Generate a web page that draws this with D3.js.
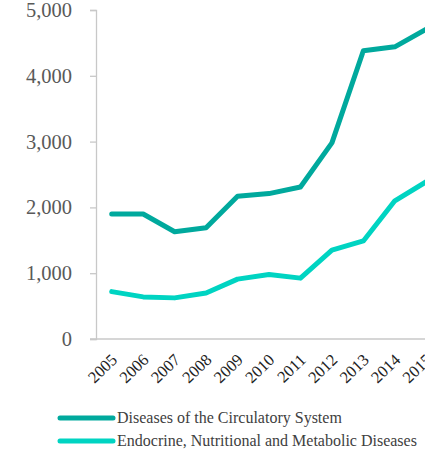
<!DOCTYPE html>
<html>
<head>
<meta charset="utf-8">
<script src="https://cdn.jsdelivr.net/npm/d3@7"></script>
<style>
  html, body { margin: 0; padding: 0; background: #fff; overflow: hidden; }
  svg { display: block; font-family: "Liberation Serif", "Times New Roman", serif; }
</style>
</head>
<body>
<svg id="chart" width="425" height="449"></svg>
<script>
const years = ["2005","2006","2007","2008","2009","2010","2011","2012","2013","2014","2015"];
const circulatory = [1900, 1900, 1630, 1690, 2170, 2210, 2310, 2980, 4380, 4440, 4710];
const endocrine = [720, 640, 625, 700, 910, 980, 925, 1350, 1490, 2100, 2390];
const seriesNames = ["Diseases of the Circulatory System", "Endocrine, Nutritional and Metabolic Diseases"];
const seriesColors = ["#00A99D", "#00D4C2"];
const yTicks = [0, 1000, 2000, 3000, 4000, 5000];

const serif = '"Liberation Serif", "Times New Roman", serif';
const svg = d3.select("#chart");
const plot = { left: 96, top: 10, bottom: 339, right: 442 };

const x = d3.scalePoint().domain(years).range([plot.left, plot.right]).padding(0.5);
const y = d3.scaleLinear().domain([0, 5000]).range([plot.bottom, plot.top]);

// y axis
const yAxis = svg.append("g")
  .attr("transform", `translate(${plot.left},0)`)
  .call(d3.axisLeft(y).tickValues(yTicks).tickSize(6).tickPadding(18).tickFormat(d3.format(",")));
yAxis.attr("font-family", serif);
yAxis.select(".domain").attr("stroke", "#c8c8c8").attr("stroke-width", 1.3);
yAxis.selectAll(".tick line").attr("stroke", "#c8c8c8").attr("stroke-width", 1.3);
yAxis.selectAll(".tick text")
  .attr("fill", "#595959")
  .style("font-size", "20.5px")
  .style("font-family", serif);

// x axis
const xAxis = svg.append("g")
  .attr("transform", `translate(0,${plot.bottom})`)
  .call(d3.axisBottom(x).tickSize(0).tickPadding(0));
xAxis.attr("font-family", serif);
xAxis.select(".domain").attr("d", `M${plot.left - 6},0H${plot.right}`).attr("stroke", "#c8c8c8").attr("stroke-width", 1.3);
xAxis.selectAll(".tick text")
  .attr("fill", "#222")
  .style("font-size", "16.5px")
  .style("font-family", serif)
  .attr("text-anchor", "end")
  .attr("dy", 0)
  .attr("transform", "translate(6,22) rotate(-44)");

// lines
const line = d3.line().x((d, i) => x(years[i])).y(d => y(d));
[circulatory, endocrine].forEach((vals, k) => {
  svg.append("path")
    .datum(vals)
    .attr("fill", "none")
    .attr("stroke", seriesColors[k])
    .attr("stroke-width", 5)
    .attr("stroke-linejoin", "round")
    .attr("stroke-linecap", "round")
    .attr("d", line);
});

// legend
const legend = svg.append("g").attr("font-family", serif);
seriesNames.forEach((name, k) => {
  const ly = 418 + k * 23;
  legend.append("line")
    .attr("x1", 60).attr("x2", 113).attr("y1", ly).attr("y2", ly)
    .attr("stroke", seriesColors[k]).attr("stroke-width", 5).attr("stroke-linecap", "round");
  legend.append("text")
    .attr("x", 117).attr("y", ly + 5)
    .attr("fill", "#404040")
    .style("font-size", "16px")
    .style("font-family", serif)
    .text(name);
});
</script>
</body>
</html>
